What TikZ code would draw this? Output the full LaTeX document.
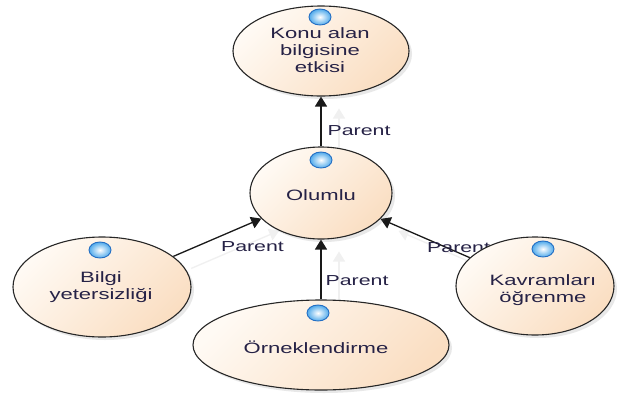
\documentclass[tikz,border=0pt]{standalone}
\usepackage{fontspec}
\setmainfont{Liberation Sans}[FakeStretch=1.47]
\usetikzlibrary{shapes.geometric,arrows.meta,shadows}
\definecolor{fillA}{RGB}{255,250,244}
\definecolor{fillB}{RGB}{250,222,194}
\definecolor{txtc}{RGB}{38,34,70}
\definecolor{iconc}{RGB}{80,170,235}
\definecolor{iconrim}{RGB}{35,110,195}
\pgfdeclarelayer{bg}
\pgfsetlayers{bg,main}
\begin{document}
\begin{tikzpicture}[x=1pt,y=-1pt,
  oval/.style={ellipse, draw=black!85, line width=1.1pt, inner sep=0pt,
    top color=fillA, bottom color=fillB, shading angle=45,
    drop shadow={shadow xshift=3pt, shadow yshift=-3pt, opacity=0.15, fill=black!60}},
  ovaltext/.style={text=txtc, font=\fontsize{15}{17}\selectfont, align=center, inner sep=0pt},
  icon/.style={ellipse, draw=iconrim, line width=0.9pt, inner sep=0pt,
    minimum width=22pt, minimum height=16pt, inner color=white, outer color=iconc},
  conn/.style={draw=black!90, line width=1.3pt, -{Triangle[length=10pt,width=12pt]}},
  ghost/.style={draw=black!6, line width=1.3pt, -{Triangle[length=10pt,width=12pt]},
    transform canvas={shift={(18pt,-12pt)}}},
  lab/.style={text=txtc, font=\fontsize{14.5}{16}\selectfont, inner sep=0pt}]
\useasboundingbox (0,0) rectangle (622,394);
\begin{pgfonlayer}{bg}
  \fill[white] (0,0) rectangle (622,394);
\end{pgfonlayer}

% ellipses
\node[oval, minimum width=176pt, minimum height=90pt] (konu) at (321,51) {};
\node[oval, minimum width=142pt, minimum height=92pt] (olumlu) at (321,193) {};
\node[oval, minimum width=178pt, minimum height=100pt] (bilgi) at (102,287) {};
\node[oval, minimum width=158pt, minimum height=98pt] (kavram) at (535,286) {};
\node[oval, minimum width=256pt, minimum height=90pt] (ornek) at (321,345) {};

% texts
\node[ovaltext] (konu-t) at (320,50) {Konu alan\\bilgisine\\etkisi};
\node[ovaltext] (olumlu-t) at (321,195) {Olumlu};
\node[ovaltext] (bilgi-t) at (101,287) {Bilgi\\yetersizliği};
\node[ovaltext] (kavram-t) at (543,290) {Kavramları\\öğrenme};
\node[ovaltext] (ornek-t) at (316,347) {Örneklendirme};

% icons
\node[icon] (konu-i) at (320,17) {};
\node[icon] (olumlu-i) at (321,160) {};
\node[icon] (bilgi-i) at (100,250) {};
\node[icon] (kavram-i) at (543,249) {};
\node[icon] (ornek-i) at (318,313) {};

% connectors
\begin{pgfonlayer}{bg}
  \draw[ghost] (olumlu) -- (konu);
  \draw[ghost] (bilgi) -- (olumlu);
  \draw[ghost] (ornek) -- (olumlu);
  \draw[ghost] (kavram) -- (olumlu);
  \draw[conn] (olumlu) -- node[lab, pos=0.31, anchor=west, xshift=6pt] (l1) {Parent} (konu);
  \draw[conn] (bilgi) -- node[lab, pos=0.9, yshift=-24pt] (l2) {Parent} (olumlu);
  \draw[conn] (ornek) -- node[lab, pos=0.31, anchor=west, xshift=4pt] (l3) {Parent} (olumlu);
  \draw[conn] (kavram) -- node[lab, pos=0.125, yshift=5pt] (l4) {Parent} (olumlu);
\end{pgfonlayer}
\end{tikzpicture}
\end{document}
